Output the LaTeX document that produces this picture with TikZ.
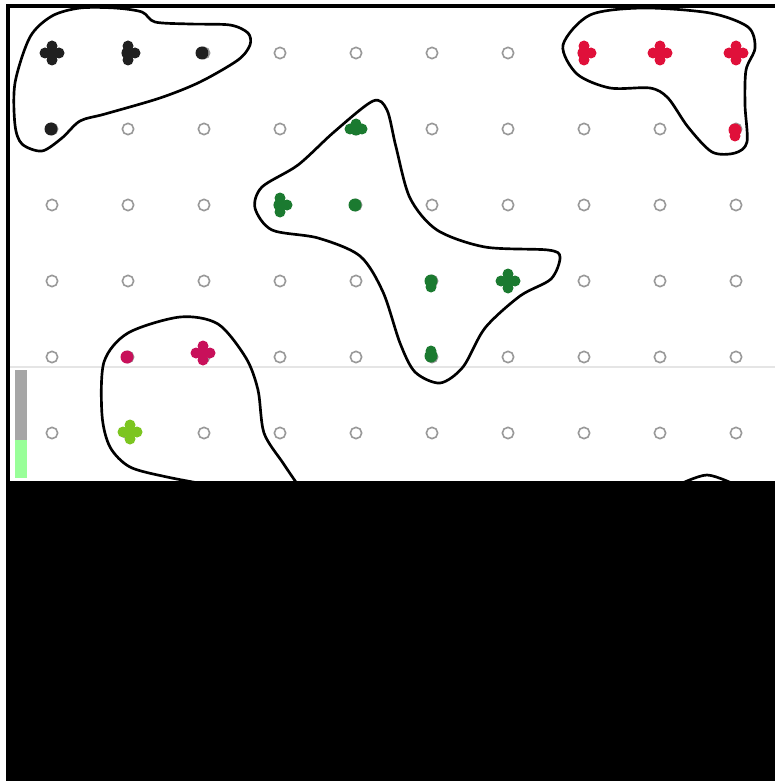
\documentclass[tikz,border=0pt]{standalone}
\usepackage{tikz}

\definecolor{inkblack}{HTML}{202020}
\definecolor{inkred}{HTML}{E0103A}
\definecolor{inkgreen}{HTML}{1B7A30}
\definecolor{inkpink}{HTML}{C8105A}
\definecolor{inklime}{HTML}{7CC520}

\tikzset{
  gridpt/.style={draw=gray!80, line width=1.2pt, fill=white},
  blob/.style={draw=black, line width=2pt},
}

% a mark: centre dot plus the given lobes
\newcommand{\lobes}[4]{%
  \fill[#3] (#1,#2) circle (6.5);
  \foreach \dx/\dy in {#4} \fill[#3] ({#1+\dx},{#2+\dy}) circle (5.5);
}

\begin{document}
\begin{tikzpicture}[x=0.75pt, y=-0.75pt]
  \useasboundingbox (0,0) rectangle (775,781);
  \fill[white] (0,0) rectangle (775,781);

  % grid of empty points
  \foreach \r in {0,...,5}
    \foreach \c in {0,...,9}
      \node[gridpt, circle, inner sep=0pt, minimum size=8.5pt] (g-\r-\c) at ({52+76*\c},{53+76*\r}) {};

  % faint scan line and side bar
  \draw[gray!20, line width=0.8pt] (10,367) -- (775,367);
  \fill[gray!70] (15,370) rectangle (27,440);
  \fill[green!40] (15,440) rectangle (27,478);

  % marks
  \lobes{52}{53}{inkblack}{0/-7,7/0,0/7,-7/0}
  \lobes{128}{53}{inkblack}{0/-7,7/0,0/7}
  \lobes{202}{53}{inkblack}{}
  \lobes{51}{129}{inkblack}{}
  \lobes{584}{53}{inkred}{0/-7,7/0,0/7}
  \lobes{660}{53}{inkred}{0/-7,7/0,0/7,-7/0}
  \lobes{736}{53}{inkred}{0/-7,7/0,0/7,-7/0}
  \lobes{735}{130}{inkred}{0/6}
  \lobes{356}{129}{inkgreen}{0/-5,6/0,-6/0}
  \lobes{280}{205}{inkgreen}{0/-7,7/0,0/7}
  \lobes{355}{205}{inkgreen}{}
  \lobes{431}{281}{inkgreen}{0/6}
  \lobes{508}{281}{inkgreen}{0/-7,7/0,0/7,-7/0}
  \lobes{431}{356}{inkgreen}{0/-5}
  \lobes{127}{357}{inkpink}{}
  \lobes{203}{353}{inkpink}{0/-7,7/0,0/7,-7/0}
  \lobes{130}{432}{inklime}{0/-7,7/0,0/7,-7/0}

  % outlines
  \draw[blob] plot[smooth cycle] coordinates {(15,83) (30,37) (52,16) (80,8) (115,8) (142,12) (155,22)
    (190,24) (230,25) (248,33) (250,45) (238,60) (200,82) (160,98) (105,114) (80,121) (62,138)
    (42,151) (22,144) (15,125)};
  \draw[blob] plot[smooth cycle] coordinates {(563,45) (590,15) (643,8) (710,13) (748,27) (755,48)
    (746,70) (745,105) (747,142) (735,153) (712,152) (688,127) (668,98) (650,88) (610,88)
    (577,74)};
  \draw[blob] plot[smooth cycle] coordinates {(373,101) (334,132) (298,165) (262,187) (255,208)
    (272,230) (318,238) (360,256) (383,292) (400,343) (415,372) (440,383) (463,367) (485,328)
    (520,296) (551,279) (560,257) (548,250) (485,247) (437,230) (410,198) (396,147) (387,110)};
  \draw[blob] plot[smooth] coordinates {(215,486) (167,477) (130,467) (110,447) (102,415) (104,362)
    (128,333) (180,317) (218,324) (246,358) (258,390) (264,433) (283,463) (300,488)};
  \draw[blob] plot[smooth] coordinates {(676,486) (707,475) (738,486)};

  % frame and blacked-out lower part
  \fill[black] (6,4) rectangle (775,8);
  \fill[black] (6,4) rectangle (10,481);
  \fill[black] (6,481) rectangle (775,781);
\end{tikzpicture}
\end{document}
